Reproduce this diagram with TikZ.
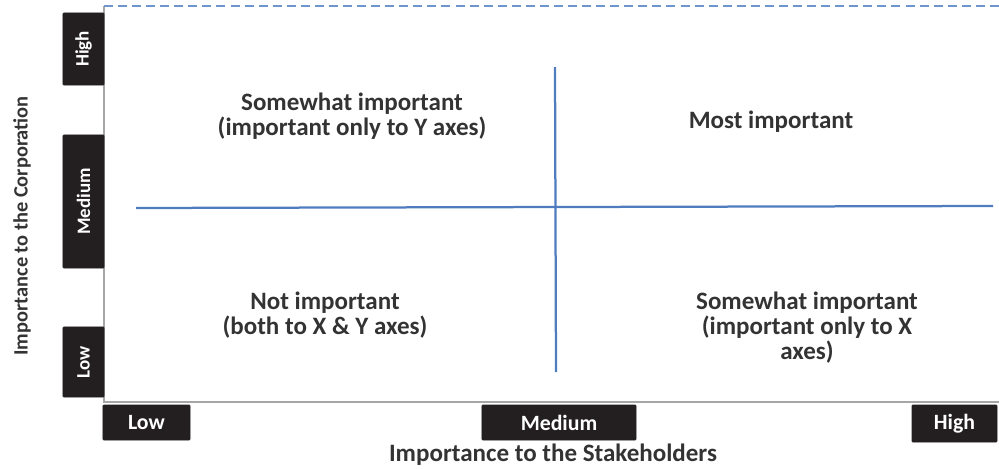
\documentclass[tikz,border=0pt]{standalone}
\usepackage{fontspec}
\setmainfont{Carlito}
\usetikzlibrary{positioning}
\definecolor{boxblack}{HTML}{231F20}
\definecolor{gridblue}{HTML}{4F7CBF}
\definecolor{dashblue}{HTML}{6F95CF}
\definecolor{framegray}{HTML}{A6A6A6}
\definecolor{textgray}{HTML}{333333}

\begin{document}
\begin{tikzpicture}[x=0.025cm, y=-0.025cm]
            % Set styles
            \tikzset{
                levelBox/.style={
                        fill=boxblack,
                        draw=boxblack,
                        rounded corners=0.5pt,
                        text=white,
                        inner sep=0pt
                    }
            }
            \tikzset{
                yLevel/.style={
                        levelBox,
                        rotate=90,
                        minimum height=1.025cm,
                        font=\bfseries\fontsize{13.5}{15}\selectfont
                    }
            }
            \tikzset{
                xLevel/.style={
                        levelBox,
                        minimum height=0.875cm,
                        font=\bfseries\fontsize{15.5}{18}\selectfont
                    }
            }
            \tikzset{
                quadText/.style={
                        align=center,
                        text=textgray,
                        font=\bfseries\fontsize{17.8}{17.8}\selectfont
                    }
            }
            \tikzset{
                axisTitle/.style={
                        text=textgray,
                        font=\bfseries\fontsize{14.5}{16}\selectfont
                    }
            }
            \tikzset{
                divider/.style={
                        gridblue,
                        line width=1.6pt
                    }
            }
            \useasboundingbox (0,0) rectangle (999,468);
            % Frame of the grid
            \coordinate (topleft) at (104,6);
            \coordinate (topright) at (999,6);
            \coordinate (botleft) at (104,402);
            \coordinate (botright) at (999,402);
            \draw[framegray, line width=1.4pt] (topleft) -- (botleft) -- (botright);
            \draw[dashblue, line width=1.4pt, dash pattern=on 6.4pt off 3.6pt] (topleft) -- (topright);
            % Level boxes on the y axis
            \node[yLevel, minimum width=1.8cm] (yhigh) at (83.5,49) {High};
            \node[yLevel, minimum width=3.325cm] (ymedium) at (83.5,201.5) {Medium};
            \node[yLevel, minimum width=1.75cm] (ylow) at (83.5,362) {Low};
            % Level boxes on the x axis
            \node[xLevel, minimum width=2.175cm] (xlow) at (146.5,422.5) {Low};
            \node[xLevel, minimum width=3.85cm] (xmedium) at (559,422.5) {Medium};
            \node[xLevel, minimum width=2.125cm, minimum height=0.925cm] (xhigh) at (954.5,423.5) {High};
            % Axis titles
            \node[axisTitle, rotate=90] (ytitle) at (22,226) {Importance to the Corporation};
            \node[axisTitle, font=\bfseries\fontsize{17.8}{18}\selectfont] (xtitle) at (553,455) {Importance to the Stakeholders};
            % Quadrant dividers
            \coordinate (hleft) at (136,208);
            \coordinate (hright) at (993,206);
            \coordinate (vtop) at (555,67);
            \coordinate (vbottom) at (556,372);
            \draw[divider] (hleft) -- (hright);
            \draw[divider] (vtop) -- (vbottom);
            % Quadrant labels
            \node[quadText] (qtl) at (352,116.5) {Somewhat important\\(important only to Y axes)};
            \node[quadText] (qtr) at (771,122) {Most important};
            \node[quadText] (qbl) at (325,315) {Not important\\(both to X \& Y axes)};
            \node[quadText] (qbr) at (807,328) {Somewhat important\\(important only to X\\axes)};
        \end{tikzpicture}
\end{document}
